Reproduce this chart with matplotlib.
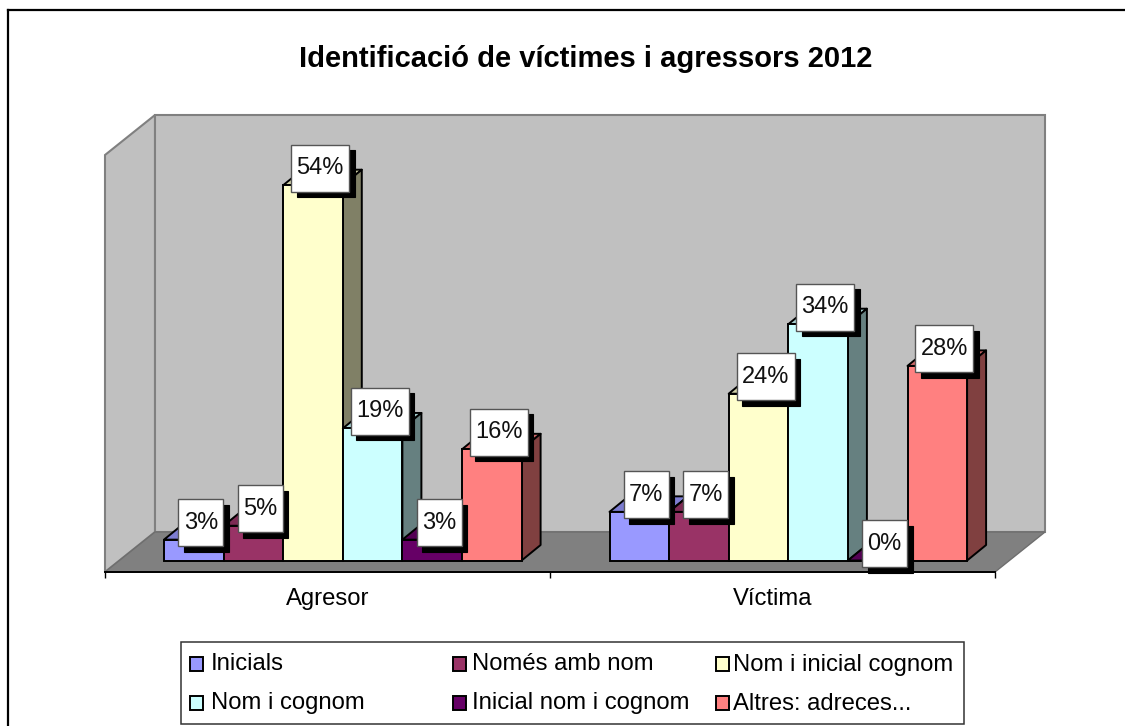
import matplotlib
matplotlib.use('Agg')
import numpy as np
import matplotlib.pyplot as plt
from matplotlib.patches import Polygon, Rectangle

plt.rcParams['font.family'] = ['Liberation Sans', 'DejaVu Sans']

# Data
categories = ['Agresor', 'Víctima']
series = ['Inicials', 'Només amb nom', 'Nom i inicial cognom',
          'Nom i cognom', 'Inicial nom i cognom', 'Altres: adreces...']
agresor = [3, 5, 54, 19, 3, 16]
victima = [7, 7, 24, 34, 0, 28]
colors = ['#9999FF', '#993366', '#FFFFCC', '#CCFFFF', '#660066', '#FF8080']
title = 'Identificació de víctimes i agressors 2012'


def shade(color, k):
    rgb = np.array(matplotlib.colors.to_rgb(color))
    return tuple(rgb * k)


fig = plt.figure(figsize=(11.25, 7.26), dpi=100)

# background layer in pixels: frame, title and legend
bg = fig.add_axes([0, 0, 1, 1])
bg.set_xlim(0, 1125)
bg.set_ylim(726, 0)
bg.axis('off')
bg.plot([8, 8], [726, 10], color='black', lw=1.6)
bg.plot([8, 1125], [10, 10], color='black', lw=1.6)
bg.text(586, 59, title, fontsize=21, fontweight='bold', ha='center', va='center')

bg.add_patch(Rectangle((181, 642), 783, 82, fc='white', ec='#333333', lw=1.1))
swatch_x = [190, 453, 716]
text_x = [211, 472, 733]
row_y = [664, 703]
for i, name in enumerate(series):
    row, col = divmod(i, 3)
    bg.add_patch(Rectangle((swatch_x[col], row_y[row] - 7), 13, 14,
                           fc=colors[i], ec='black', lw=1.4))
    bg.text(text_x[col], row_y[row] + 0.5, name, fontsize=17.2, ha='left', va='center')

# chart axes: the front plane of the 3D box
ax = fig.add_axes([105 / 1125, 1 - 572 / 726, 890 / 1125, 417 / 726])
ax.set_xlim(0, 2)
ax.set_ylim(0, 60)
ax.patch.set_visible(False)

# size of one pixel in data units
px = 2 / 890
py = 60 / 417
wall_dx, wall_dy = 50 * px, 40 * py
bar_dx, bar_dy = 19 * px, 15.5 * py
base_dx, base_dy = 15 * px, 11.5 * py
bar_w = 59.6 * px
group_start = 59 * px

wall = '#C0C0C0'
edge = '#808080'
ax.add_patch(Polygon([(0, 0), (wall_dx, wall_dy), (wall_dx, 60 + wall_dy), (0, 60)],
                     fc=wall, ec=edge, lw=1.5, clip_on=False))
ax.add_patch(Rectangle((wall_dx, wall_dy), 2, 60, fc=wall, ec=edge, lw=1.5, clip_on=False))
ax.add_patch(Polygon([(0, 0), (wall_dx, wall_dy), (2 + wall_dx, wall_dy), (2, 0)],
                     fc='#808080', ec='#6E6E6E', lw=1, clip_on=False))

# bars, left to right so each front covers the previous side face
labels = []
for g, values in enumerate([agresor, victima]):
    for i, v in enumerate(values):
        x0 = g + group_start + i * bar_w + (0.5 * px if g else 0)
        x1 = x0 + bar_w
        top = base_dy + v
        ax.add_patch(Polygon([(x0, top), (x0 + bar_dx, top + bar_dy),
                              (x1 + bar_dx, top + bar_dy), (x1, top)],
                             fc=shade(colors[i], 0.82), ec='black', lw=1.4, clip_on=False,
                             joinstyle='round', zorder=3))
        ax.add_patch(Polygon([(x1, base_dy), (x1 + bar_dx, base_dy + bar_dy),
                              (x1 + bar_dx, top + bar_dy), (x1, top)],
                             fc=shade(colors[i], 0.5), ec='black', lw=1.4, clip_on=False,
                             joinstyle='round', zorder=3))
        ax.bar(x0, v, bar_w, bottom=base_dy, align='edge', color=colors[i],
               edgecolor='black', linewidth=1.4, zorder=3)
        labels.append((x0 + bar_w / 2 + 7 * px, top + 17 * py, v))

# value labels with hard shadow
for x, y, v in labels:
    text = f'{v}%'
    w = (58 if v >= 10 else 45) * px
    h = 47 * py
    ax.add_patch(Rectangle((x - w / 2 + 5.5 * px, y - h / 2 - 5.5 * py), w, h, fc='black',
                           ec='black', lw=0.8, clip_on=False, zorder=5))
    ax.add_patch(Rectangle((x - w / 2, y - h / 2), w, h, fc='white',
                           ec='#555555', lw=1, clip_on=False, zorder=6))
    ax.text(x, y, text, fontsize=17, ha='center', va='center', color='#111111', zorder=7)

# axis
for s in ['top', 'left', 'right']:
    ax.spines[s].set_visible(False)
ax.spines['bottom'].set_linewidth(1.4)
ax.spines['bottom'].set_zorder(2)
ax.set_yticks([])
ax.set_xticks([0, 1, 2])
ax.set_xticklabels([])
ax.tick_params(axis='x', which='major', length=4, width=1)
ax.set_xticks([0.5, 1.5], minor=True)
ax.set_xticklabels(categories, minor=True, fontsize=17.2)
ax.tick_params(axis='x', which='minor', length=0, pad=11.5)

fig.savefig('out.png', dpi=100)
